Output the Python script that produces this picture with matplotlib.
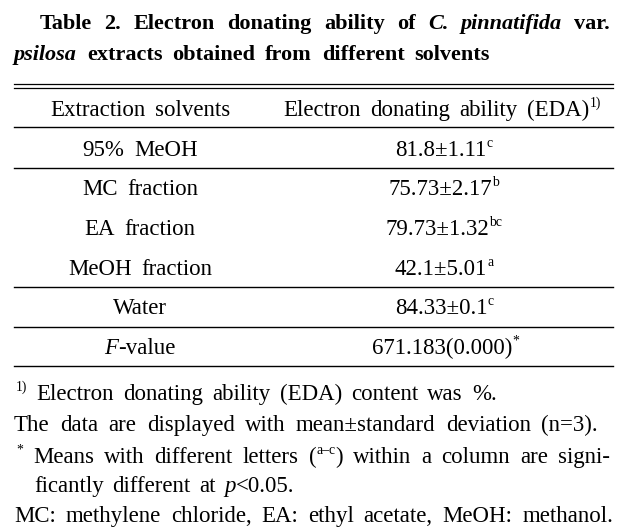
import matplotlib
matplotlib.use("Agg")
from matplotlib import pyplot as plt
from matplotlib.lines import Line2D

W, H = 627, 531
FONT = "Liberation Serif"
FS = 16.5

solvents = ["95% MeOH", "MC fraction", "EA fraction", "MeOH fraction", "Water"]
means = ["81.8", "75.73", "79.73", "42.1", "84.33"]
sds = ["1.11", "2.17", "1.32", "5.01", "0.1"]
letters = ["c", "b", "bc", "a", "c"]
f_value = "671.183(0.000)"

fig = plt.figure(figsize=(W / 100, H / 100), dpi=100)
fig.patch.set_facecolor("white")
renderer = fig.canvas.get_renderer()


def seg(s, kind, fs):
    size = fs * 0.6 if "s" in kind else fs
    t = fig.text(0, 0, s, fontsize=size, family=FONT, va="baseline",
                 fontstyle="italic" if "i" in kind else "normal",
                 fontweight="bold" if "b" in kind else "normal")
    return t, t.get_window_extent(renderer).width


def draw(words, y, x0=None, x1=None, xc=None, fs=FS, gap=0.42):
    # words: list of words, each a list of (text, kind) pieces
    built = []
    for w in words:
        pieces = [seg(s, k, fs) + (k,) for s, k in w]
        built.append((pieces, sum(p[1] for p in pieces)))
    total = sum(b[1] for b in built)
    if x1 is not None and len(built) > 1:
        g = (x1 - x0 - total) / (len(built) - 1)
    else:
        g = gap * fs * 100 / 72
    width = total + g * (len(built) - 1)
    x = xc - width / 2 if xc is not None else x0
    for pieces, ww in built:
        for t, pw, k in pieces:
            raise_px = fs * 0.55 if "s" in k else 0
            t.set_position((x / W, 1 - (y - raise_px) / H))
            x += pw
        x += g


def words_of(text, kind="r"):
    return [[(w, kind)] for w in text.split()]


def rule(y, x0=14, x1=613, lw=1.0):
    fig.add_artist(Line2D([x0 / W, x1 / W], [1 - y / H, 1 - y / H],
                          transform=fig.transFigure, color="black", lw=lw))


# title
draw(words_of("Table 2. Electron donating ability of", "b")
     + [[("C.", "bi")], [("pinnatifida", "bi")], [("var.", "b")]],
     29, x0=40, x1=610, fs=16)
draw([[("psilosa", "bi")]] + words_of("extracts obtained from different solvents", "b"),
     60, x0=14, x1=490, fs=16)

rule(83.5, lw=0.9)
rule(88, lw=0.9)

col1, col2 = 140, 442
draw(words_of("Extraction solvents"), 116, xc=col1)
draw(words_of("Electron donating ability") + [[("(EDA)", "r"), ("1)", "s")]],
     116, xc=col2)
rule(127)

row_y = [156, 195, 235, 275, 314]
for i, name in enumerate(solvents):
    draw(words_of(name), row_y[i], xc=col1)
    draw([[(means[i] + "±" + sds[i], "r"), (letters[i], "s")]], row_y[i], xc=col2 + 2)
draw([[("F", "i"), ("-value", "r")]], 354, xc=col1)
draw([[(f_value, "r"), ("*", "s")]], 354, xc=col2 + 4)

rule(168)
rule(287)
rule(327)
rule(366)

# footnotes
draw([[("1)", "s")]] + words_of("Electron donating ability (EDA) content was %."),
     400, x0=16, x1=497)
draw(words_of("The data are displayed with mean±standard deviation (n=3)."),
     431, x0=14, x1=598)
draw([[("*", "s")]] + words_of("Means with different letters")
     + [[("(", "r"), ("a–c", "s"), (")", "r")]]
     + words_of("within a column are signi-"), 463, x0=16, x1=610)
draw(words_of("ficantly different at") + [[("p", "i"), ("<0.05.", "r")]],
     492, x0=34, x1=294)
draw(words_of("MC: methylene chloride, EA: ethyl acetate, MeOH: methanol."),
     522, x0=14, x1=613)

fig.savefig("out.png", dpi=100)
